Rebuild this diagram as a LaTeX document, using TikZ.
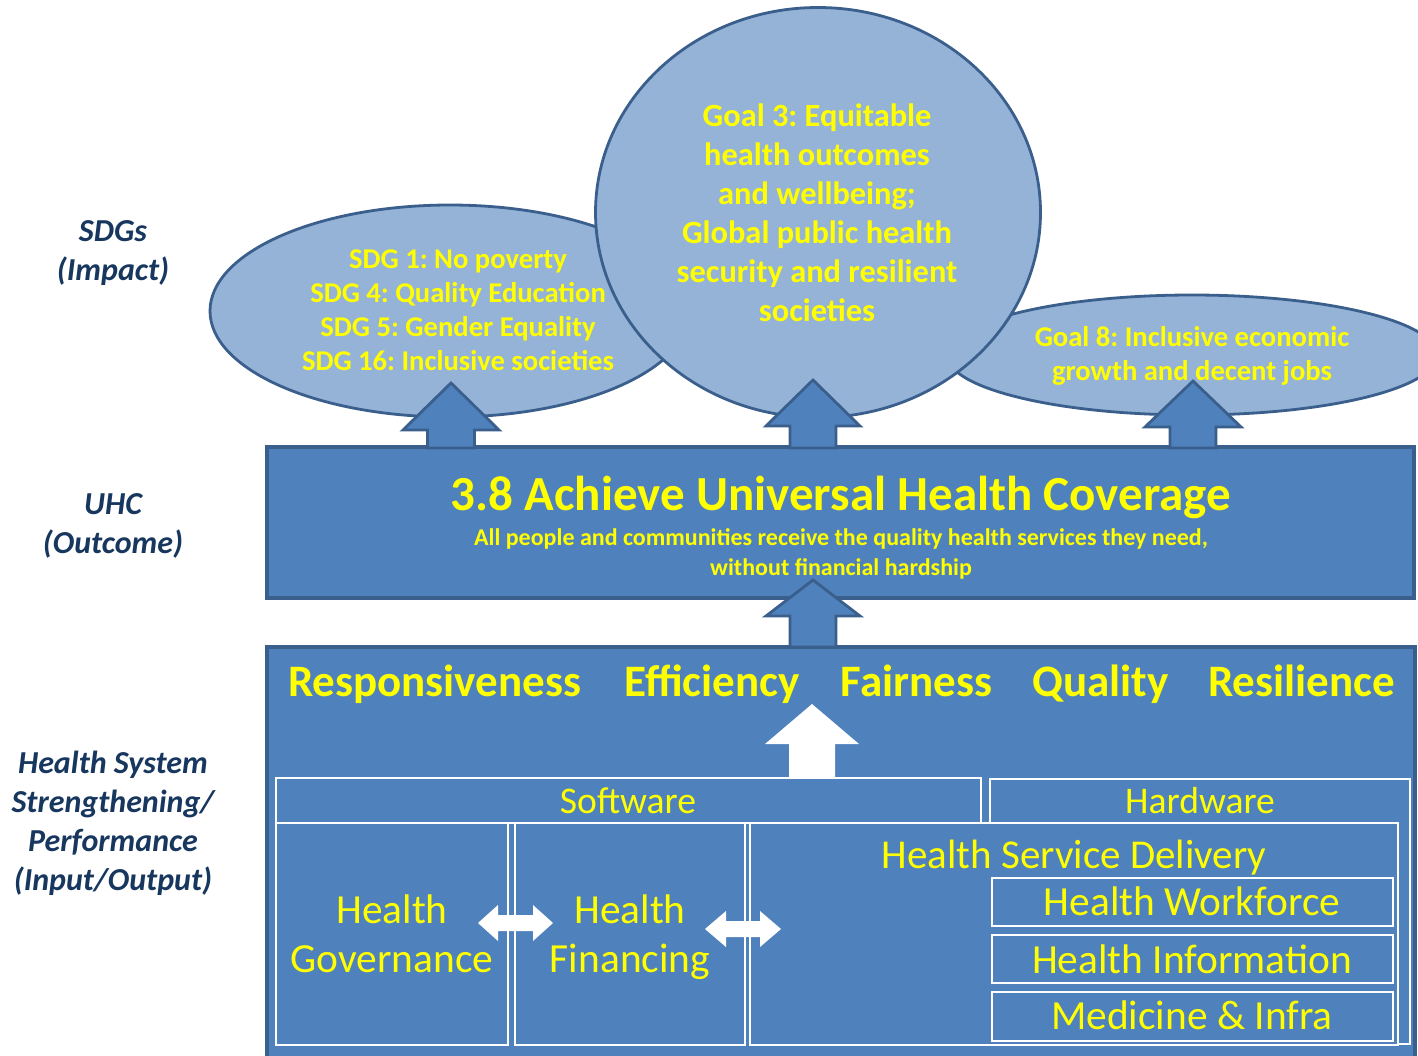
\documentclass[tikz,border=0pt]{standalone}
\usepackage{fontspec}
\setmainfont{Carlito}
\frenchspacing
\usetikzlibrary{shapes.geometric}
\definecolor{lightfill}{HTML}{95B3D7}
\definecolor{darkline}{HTML}{3A5F8C}
\definecolor{boxfill}{HTML}{4F81BD}
\definecolor{ytext}{HTML}{FFFF00}
\definecolor{navy}{HTML}{17375E}
\newcommand{\blockup}[6]{% cx, tip, headbase, base, halfhead, halfshaft
  (#1-#6,#4) -- (#1-#6,#3) -- (#1-#5,#3) -- (#1,#2) -- (#1+#5,#3) -- (#1+#6,#3) -- (#1+#6,#4) -- cycle}
\newcommand{\blockdouble}[6]{% lefttip, lefthead, righthead, righttip, cy, halfshaft
  (#1,#5) -- (#2,#5-18) -- (#2,#5-#6) -- (#3,#5-#6) -- (#3,#5-18) -- (#4,#5) -- (#3,#5+18) -- (#3,#5+#6) -- (#2,#5+#6) -- (#2,#5+18) -- cycle}
\begin{document}
\begin{tikzpicture}[x=0.5pt,y=-0.5pt,
  ell/.style={ellipse, draw=darkline, fill=lightfill, line width=1.4pt, inner sep=0pt},
  bigbox/.style={rectangle, draw=darkline, fill=boxfill, line width=1.6pt, inner sep=0pt},
  wbox/.style={rectangle, draw=white, fill=boxfill, line width=1.4pt, inner sep=0pt},
  uparr/.style={draw=darkline, fill=boxfill, line width=1.4pt, line join=miter},
  warr/.style={fill=white},
  lbl/.style={text=navy, align=center, font=\bfseries\itshape\fontsize{16}{19.5}\selectfont, anchor=base, inner sep=0pt},
  ytxt/.style={text=ytext, align=center, inner sep=0pt, anchor=base},
  qual/.style={ytxt, font=\bfseries\fontsize{22.5}{26}\selectfont},
  reg/.style={ytxt, font=\fontsize{20.7}{24.5}\selectfont},
]
\clip (0,0) rectangle (1418,1055);
\fill[white] (0,0) rectangle (1418,1055);

% left labels (anchor = baseline of last line)
\node[lbl] (l1) at (113,280) {SDGs\\(Impact)};
\node[lbl] (l2) at (113,553) {UHC\\(Outcome)};
\node[lbl] (l3) at (113,890) {Health System\\Strengthening/\\Performance\\(Input/Output)};

% SDG shapes
\node[ell, minimum width=240pt, minimum height=106pt] (e1) at (450,311) {};
\node[ell, minimum width=245pt, minimum height=60pt] (e3) at (1192,355) {};
\node[ell, minimum width=222.5pt, minimum height=205pt] (e2) at (818,212.5) {};

\node[ytxt, font=\bfseries\fontsize{14.3}{17}\selectfont] (t1) at (458,370) {SDG 1: No poverty\\SDG 4: Quality Education\\SDG 5: Gender Equality\\SDG 16: Inclusive societies};
\node[ytxt, font=\bfseries\fontsize{16.2}{19.5}\selectfont] (t2) at (817,321) {Goal 3: Equitable\\health outcomes\\and wellbeing;\\Global public health\\security and resilient\\societies};
\node[ytxt, font=\bfseries\fontsize{14.3}{17}\selectfont] (t3) at (1192,380) {Goal 8: Inclusive economic\\growth and decent jobs};

% UHC box
\node[bigbox, minimum width=573.5pt, minimum height=75.5pt] (uhc) at (840.5,522.5) {};
\node[ytxt, font=\bfseries\fontsize{24.5}{28}\selectfont] (uhct) at (841,510) {3.8 Achieve Universal Health Coverage};
\node[ytxt, font=\bfseries\fontsize{12}{15}\selectfont] (uhcs) at (841,575) {All people and communities receive the quality health services they need,\\without financial hardship};

% arrows to SDGs
\draw[uparr] \blockup{451}{383}{430}{448}{48}{23.5};
\draw[uparr] \blockup{813}{380}{426}{448}{47}{23};
\draw[uparr] \blockup{1193}{381}{427}{448}{48}{23};

% health system box
\node[bigbox, minimum width=574pt, minimum height=211.5pt] (hs) at (841,858.5) {};
\draw[uparr] \blockup{813}{580}{616}{647}{47}{23};

\node[qual] (q1) at (434.5,696) {Responsiveness};
\node[qual] (q2) at (712,696) {Efficiency};
\node[qual] (q3) at (916.5,696) {Fairness};
\node[qual] (q4) at (1100.5,696) {Quality};
\node[qual] (q5) at (1301.5,696) {Resilience};

% building blocks
\node[wbox, minimum width=210pt, minimum height=132.5pt] (hw) at (1200,911.5) {};
\node[wbox, minimum width=352.5pt, minimum height=22.5pt] (sw) at (628.5,800.5) {};
\node[wbox, minimum width=116pt, minimum height=111pt] (gov) at (392,934) {};
\node[wbox, minimum width=115pt, minimum height=111pt] (fin) at (630,934) {};
\node[wbox, minimum width=324pt, minimum height=111pt] (hsd) at (1074,934) {};
\node[wbox, minimum width=200.5pt, minimum height=24pt] (wf) at (1192.5,902) {};
\node[wbox, minimum width=200.5pt, minimum height=24pt] (inf) at (1192.5,959) {};
\node[wbox, minimum width=200.5pt, minimum height=24.5pt] (med) at (1192.5,1016.5) {};

\node[ytxt, font=\fontsize{18.8}{22}\selectfont] (swt) at (628,813) {Software};
\node[ytxt, font=\fontsize{18.8}{22}\selectfont] (hwt) at (1200,813) {Hardware};
\node[reg, font=\fontsize{20.5}{24}\selectfont] (hsdt) at (1074,868) {Health Service Delivery};
\node[reg] (wft) at (1192,915) {Health Workforce};
\node[reg] (inft) at (1192,973) {Health Information};
\node[reg] (medt) at (1192,1029) {Medicine \& Infra};
\node[reg] (govt) at (392,972) {Health\\Governance};
\node[reg] (fint) at (630,972) {Health\\Financing};

% white arrows
\fill[warr] \blockup{812}{704}{744}{778}{47}{23};
\fill[warr] \blockdouble{478}{498}{533}{553}{923}{8};
\fill[warr] \blockdouble{705}{726}{760}{781}{929}{8};
\end{tikzpicture}
\end{document}
